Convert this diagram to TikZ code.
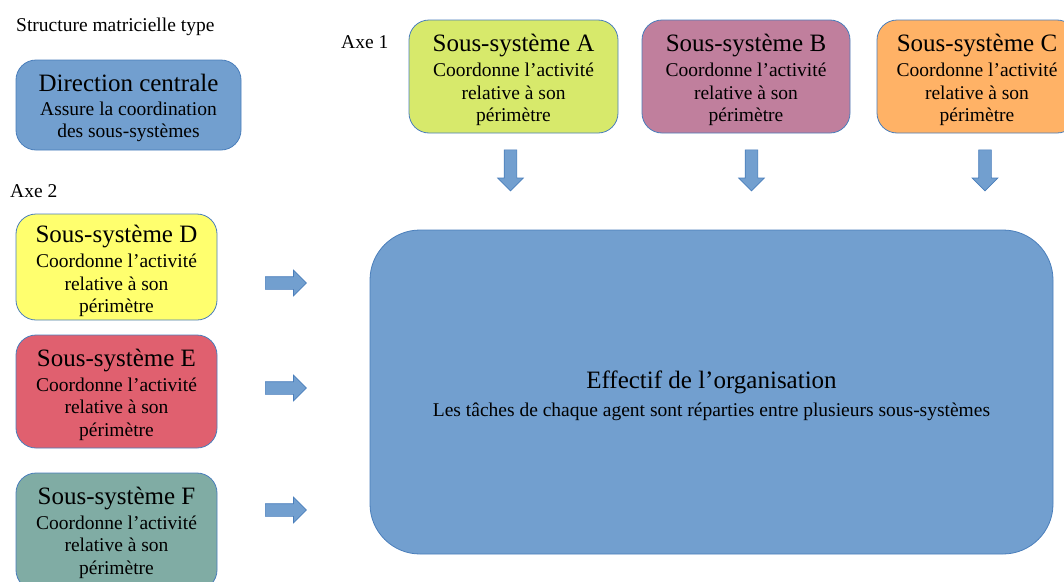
\documentclass[tikz,border=0pt]{standalone}
\usepackage{fontspec}
\setmainfont{Liberation Serif}
\usetikzlibrary{shapes.arrows}

\definecolor{boxline}{HTML}{4A7EBB}
\definecolor{bluefill}{HTML}{729FCF}
\definecolor{colA}{HTML}{D7E96B}
\definecolor{colB}{HTML}{C07F9D}
\definecolor{colC}{HTML}{FFB266}
\definecolor{colD}{HTML}{FFFF6E}
\definecolor{colE}{HTML}{E0606F}
\definecolor{colF}{HTML}{80ACA4}

\newcommand\subsys[1]{{\fontsize{25}{28}\selectfont Sous-système #1}\\[2.5pt]
  Coordonne l’activité\\ relative à son\\ périmètre}

\tikzset{
  box/.style={draw=boxline, line width=0.8pt, rounded corners=20pt, inner sep=0pt},
  txt/.style={align=center, inner sep=0pt, anchor=north,
    font=\fontsize{19.5}{22.6}\selectfont},
  plain/.style={inner sep=0pt, anchor=base west, font=\fontsize{19.5}{22}\selectfont},
  arr/.style={single arrow, draw=boxline, fill=bluefill, line width=0.7pt,
    inner xsep=0pt, inner ysep=6pt, single arrow head extend=6.5pt,
    single arrow head indent=0pt, minimum height=41pt, anchor=tail},
}

\begin{document}
\begin{tikzpicture}[x=1pt, y=-1pt]
\useasboundingbox (0,0) rectangle (1064,581);
\clip (0,0) rectangle (1064,581);

% headings
\node[plain] (title) at (16,31) {Structure matricielle type};
\node[plain] (axe1) at (341,48) {Axe 1};
\node[plain] (axe2) at (10,197) {Axe 2};

% central direction
\node[box, fill=bluefill, minimum width=225pt, minimum height=90pt] (dir) at (128.5,105) {};
\node[txt] (dirtxt) at ([yshift=-14.5pt]dir.north)
  {{\fontsize{25}{28}\selectfont Direction centrale}\\[0.8pt]
   Assure la coordination\\ des sous-systèmes};

% axis 1 sub-systems
\node[box, fill=colA, minimum width=209pt, minimum height=113pt] (A) at (513.5,76.5) {};
\node[box, fill=colB, minimum width=208pt, minimum height=113pt] (B) at (746,76.5) {};
\node[box, fill=colC, minimum width=200pt, minimum height=113pt] (C) at (977,76.5) {};
\node[txt] (Atxt) at ([yshift=-14.5pt]A.north) {\subsys{A}};
\node[txt] (Btxt) at ([yshift=-14.5pt]B.north) {\subsys{B}};
\node[txt] (Ctxt) at ([yshift=-14.5pt]C.north) {\subsys{C}};

% axis 2 sub-systems
\node[box, fill=colD, minimum width=201pt, minimum height=106pt] (D) at (116.5,267) {};
\node[box, fill=colE, minimum width=201pt, minimum height=113pt] (E) at (116.5,391.5) {};
\node[box, fill=colF, minimum width=201pt, minimum height=117pt] (F) at (116.5,531.5) {};
\node[txt] (Dtxt) at ([yshift=-11.5pt]D.north) {\subsys{D}};
\node[txt] (Etxt) at ([yshift=-14pt]E.north) {\subsys{E}};
\node[txt] (Ftxt) at ([yshift=-14pt]F.north) {\subsys{F}};

% staff of the organisation
\node[box, rounded corners=50pt, fill=bluefill, minimum width=683pt, minimum height=324pt] (org) at (711.5,392) {};
\node[txt] (orgtxt) at ([yshift=-141pt]org.north)
  {{\fontsize{25}{28}\selectfont Effectif de l’organisation}\\[5pt]
   Les tâches de chaque agent sont réparties entre plusieurs sous-systèmes};

% block arrows
\node[arr, rotate=-90] (arrA) at (510.5,149.5) {};
\node[arr, rotate=-90] (arrB) at (751.5,149.5) {};
\node[arr, rotate=-90] (arrC) at (985,149.5) {};
\node[arr] (arrD) at (265,283) {};
\node[arr] (arrE) at (265,388) {};
\node[arr] (arrF) at (265,510) {};
\end{tikzpicture}
\end{document}
